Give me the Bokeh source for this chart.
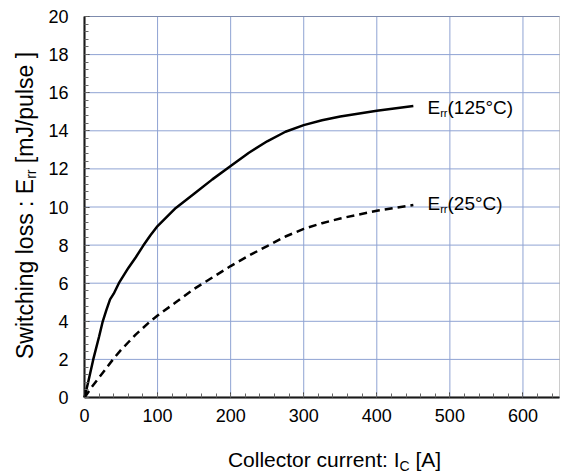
import math
from bokeh.plotting import figure
from bokeh.models import Label, Range1d, FixedTicker, BoxAnnotation
from bokeh.embed import file_html
from bokeh.resources import INLINE

# Recovery switching loss vs collector current
ic_125 = [0, 5, 12, 20, 25, 30, 35, 40, 47, 60, 70, 80, 90, 100, 125, 150, 175,
          200, 225, 250, 275, 300, 325, 350, 400, 450]
err_125 = [0, 0.8, 2.0, 3.2, 4.0, 4.6, 5.15, 5.45, 6.0, 6.8, 7.35, 7.95, 8.5, 9.0,
           9.95, 10.7, 11.45, 12.15, 12.85, 13.45, 13.95, 14.3, 14.55, 14.75, 15.05, 15.3]

ic_25 = [0, 10, 20, 30, 40, 50, 60, 70, 80, 90, 100, 125, 150, 175, 200, 225, 250,
         275, 300, 325, 350, 375, 400, 425, 450]
err_25 = [0, 0.55, 1.05, 1.55, 2.05, 2.5, 2.9, 3.3, 3.65, 4.0, 4.3, 5.0, 5.7, 6.3,
          6.9, 7.45, 7.95, 8.45, 8.85, 9.15, 9.4, 9.6, 9.8, 9.95, 10.1]

x_ticks = [0, 100, 200, 300, 400, 500, 600]
y_ticks = [0, 2, 4, 6, 8, 10, 12, 14, 16, 18, 20]
X_MAX, Y_MAX = 650, 20

FONT = "Liberation Sans"
W, H = 561, 475
# plot box inside the canvas, in pixels
BOX_L, BOX_R, BOX_T, BOX_B = 84, 559, 16, 397

sx = (BOX_R - BOX_L) / X_MAX
sy = (BOX_B - BOX_T) / Y_MAX
x_rng = Range1d(-BOX_L / sx, X_MAX + (W - BOX_R) / sx)
y_rng = Range1d(-(H - BOX_B) / sy, Y_MAX + BOX_T / sy)

p = figure(width=W, height=H, output_backend="svg", toolbar_location=None,
           x_range=x_rng, y_range=y_rng, min_border=0)
p.min_border_left = p.min_border_right = p.min_border_top = p.min_border_bottom = 0
p.background_fill_color = "white"
p.border_fill_color = "white"
p.outline_line_color = None
p.grid.visible = False

# grid lines at the major ticks
p.segment(x0=x_ticks, y0=[0] * len(x_ticks), x1=x_ticks, y1=[Y_MAX] * len(x_ticks),
          line_color="#8fa3d3", line_width=1)
p.segment(x0=[0] * len(y_ticks), y0=y_ticks, x1=[X_MAX] * len(y_ticks), y1=y_ticks,
          line_color="#8fa3d3", line_width=1)

# plot box
p.add_layout(BoxAnnotation(left=0, right=X_MAX, bottom=0, top=Y_MAX,
                           fill_color=None, line_color="#555555", line_width=1))

# axes pinned to the data origin
p.xaxis.fixed_location = 0
p.yaxis.fixed_location = 0
p.xaxis.bounds = (0, X_MAX)
p.yaxis.bounds = (0, Y_MAX)
p.xaxis.ticker = FixedTicker(ticks=x_ticks, minor_ticks=list(range(0, X_MAX + 1, 20)))
p.yaxis.ticker = FixedTicker(ticks=y_ticks, minor_ticks=[i * 0.4 for i in range(51)])

for ax in (p.xaxis[0], p.yaxis[0]):
    ax.axis_line_color = "black"
    ax.axis_line_width = 2
    ax.major_tick_in = 5
    ax.major_tick_out = 0
    ax.minor_tick_in = 4
    ax.minor_tick_out = 0
    ax.major_tick_line_color = "#333333"
    ax.minor_tick_line_color = "#666666"
    ax.major_label_text_font = FONT
    ax.major_label_text_font_size = "18px"
    ax.major_label_text_color = "black"
p.xaxis.major_label_standoff = 11
p.yaxis.major_label_standoff = 16

# curves
p.line(ic_125, err_125, line_color="black", line_width=2.5)
p.line(ic_25, err_25, line_color="black", line_width=2.5, line_dash="8 5")

# Arial-metric advance widths (per 1000 em) used to chain text pieces
ADV = {" ": 278, "S": 667, "w": 722, "i": 222, "t": 278, "c": 500, "h": 556,
       "n": 556, "g": 556, "l": 222, "o": 556, "s": 500, ":": 278, "E": 667,
       "r": 333, "[": 278, "m": 833, "J": 500, "/": 278, "p": 556, "u": 556,
       "e": 556, "]": 278, "C": 722, "I": 278, "A": 667, "(": 333, ")": 333,
       "°": 400}
# distance from the em-box centre down to the baseline
MID = 0.35


def width(s, size):
    return sum(ADV.get(ch, 556) for ch in s) * size / 1000.0


def txt(s, px, py, size, angle=0.0):
    # px, py are canvas pixels (origin at top-left), anchored at the text's middle
    p.add_layout(Label(x=px, y=py, x_units="canvas", y_units="canvas", text=s.strip(),
                       text_font=FONT, text_font_size=f"{size}px", text_color="black",
                       text_align="left", text_baseline="middle", angle=angle))


def run_h(pieces, px, base):
    # pieces: (text, size, baseline shift); base is the baseline y
    for s, size, dy in pieces:
        lead = len(s) - len(s.lstrip())
        txt(s, px + width(" " * lead, size), base + dy - MID * size, size)
        px += width(s, size)


def run_v(pieces, base, py):
    # text reading upwards; base is the baseline x
    for s, size, dx in pieces:
        lead = len(s) - len(s.lstrip())
        txt(s, base + dx - MID * size, py - width(" " * lead, size), size,
            angle=math.pi / 2)
        py -= width(s, size)


# curve labels
for name, by in (("(125°C)", 114), ("(25°C)", 210)):
    run_h([("E", 19, 0), ("rr", 11, 2), (name, 19, 0)], 427, by)

# x axis title
x_title = [("Collector current: I", 21, 0), ("C", 14, 4), (" [A]", 21, 0)]
tw = sum(width(s, z) for s, z, _ in x_title)
run_h(x_title, 334 - tw / 2, 466)

# y axis title, reading upwards
y_title = [("Switching loss : E", 23, 0), ("rr", 14, 2), (" [mJ/pulse ]", 23, 0)]
th = sum(width(s, z) for s, z, _ in y_title)
run_v(y_title, 33, 205 + th / 2)

open("out.html", "w").write(file_html(p, INLINE))
